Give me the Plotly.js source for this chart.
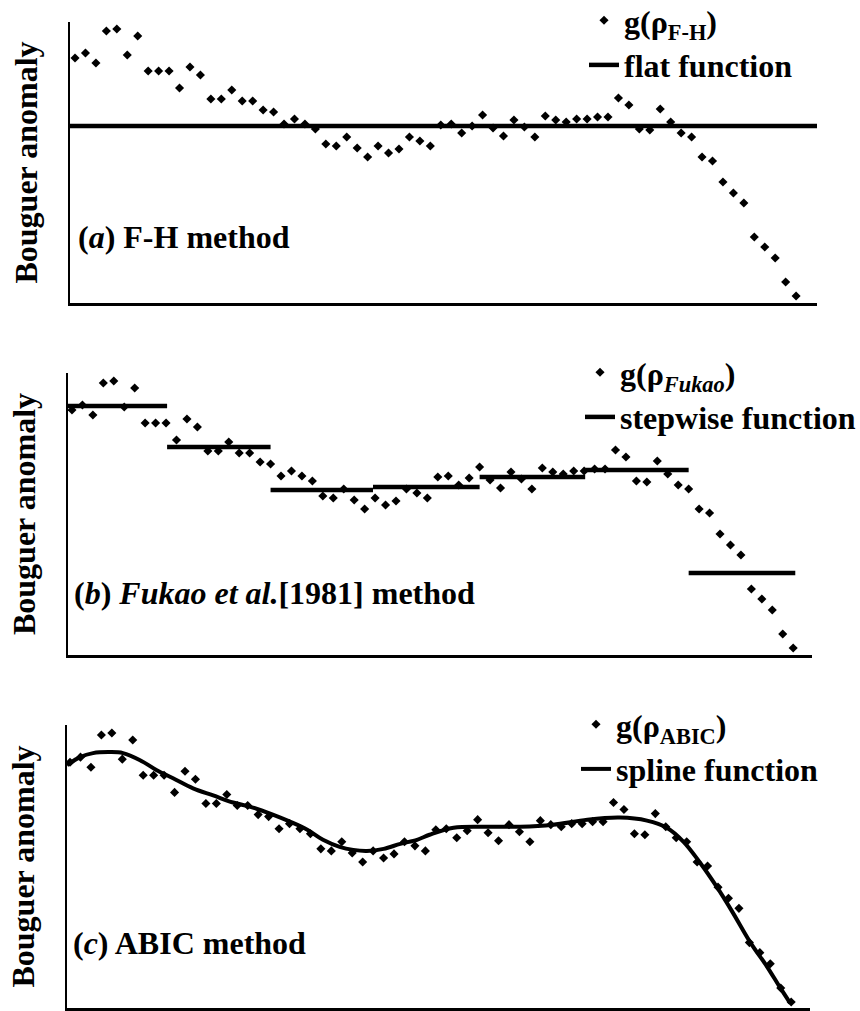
<!DOCTYPE html>
<html>
<head>
<meta charset="utf-8">
<script src="https://cdn.plot.ly/plotly-3.0.1.min.js"></script>
<style>
html, body { margin: 0; padding: 0; background: #fff; }
#chart { width: 860px; height: 1011px; }
</style>
</head>
<body>
<div id="chart"></div>
<script>
// ---- data (arbitrary anomaly units) ----
const station = [1,2,3,4,5,6,7,8,9,10,11,12,13,14,15,16,17,18,19,20,
  21,22,23,24,25,26,27,28,29,30,31,32,33,34,35,36,37,38,39,40,
  41,42,43,44,45,46,47,48,49,50,51,52,53,54,55,56,57,58,59,60,
  61,62,63,64,65,66,67,68,69,70];

const gFH = [6.8,7.3,6.3,9.5,9.7,7.1,9.0,5.5,5.5,5.5,
  3.8,5.9,5.1,2.7,2.7,3.6,2.5,2.5,1.6,1.4,
  0.2,0.7,0.2,-0.3,-1.8,-2.0,-1.1,-2.2,-3.1,-2.0,
  -2.7,-2.3,-1.1,-1.5,-2.0,0.1,0.2,-0.7,0.0,1.1,
  -0.2,-1.0,0.6,-0.1,-1.1,1.0,0.6,0.4,0.7,0.7,
  0.9,0.9,2.8,2.1,-0.3,-0.4,1.7,0.4,-0.7,-1.1,
  -3.1,-3.5,-5.6,-6.7,-7.7,-11.1,-12.1,-13.2,-15.6,-17.0];
const gFukao = gFH.slice();   // the dots read identically in panel (b)
const gABIC = gFH.slice();    // and in panel (c)

// (a) flat function
const flatLevel = 0.0;

// (b) stepwise function: block edges (station units) and block levels
const stepEdges = [0.62, 10.1, 20.0, 29.8, 40.0, 50.1, 60.0, 70.2];
const stepLevels = [7.2, 3.1, -1.2, -0.9, 0.1, 0.8, -9.5];

// (c) spline function knots
const splineX = [0.71,1.96,3.2,4.83,6.07,7.7,9.3,10.86,12.77,14.7,16.6,18.5,20.4,22.05,
  23.7,25.2,26.8,28.1,29.4,31.0,32.6,34.2,35.4,37.7,40.9,44.1,47.2,50.5,53.6,56.2,
  58.1,59.7,61.3,62.9,64.4,66.1,67.7,68.9,69.9];
const splineY = [6.5,7.3,7.7,7.8,7.7,7.0,6.0,5.2,4.2,3.5,2.8,2.3,1.6,0.9,
  0.1,-0.9,-1.6,-1.9,-2.0,-1.8,-1.3,-0.9,-0.4,0.3,0.4,0.4,0.6,1.1,1.3,1.0,
  0.3,-1.1,-3.2,-5.6,-8.1,-11.1,-13.5,-15.5,-17.1];

// axis ranges
const xRangeA = [0.52, 72.0], yRangeA = [-17.7, 10.4];
const xRangeB = [0.62, 71.8], yRangeB = [-17.7, 10.5];
const xRangeC = [0.71, 71.8], yRangeC = [-17.59, 10.49];

// ---- build ----
const FONT = 'Liberation Serif';
const W = 860, H = 1011;
const px = v => v / W;
const py = v => 1 - v / H;

const stepX = [], stepY = [];
stepLevels.forEach((lv, k) => {
  stepX.push(stepEdges[k], stepEdges[k + 1], null);
  stepY.push(lv, lv, null);
});

const dotMarker = { symbol: 'diamond', size: 7, color: '#000' };
const lineStyle = { color: '#000', width: 4.5 };

const traces = [
  { x: station, y: gFH, mode: 'markers', marker: dotMarker, xaxis: 'x', yaxis: 'y',
    name: 'g(ρ<sub>F-H</sub>)', legend: 'legend' },
  { x: xRangeA, y: [flatLevel, flatLevel], mode: 'lines', line: lineStyle, xaxis: 'x', yaxis: 'y',
    name: 'flat function', legend: 'legend' },
  { x: station, y: gFukao, mode: 'markers', marker: dotMarker, xaxis: 'x2', yaxis: 'y2',
    name: 'g(ρ<sub><i>Fukao</i></sub>)', legend: 'legend2' },
  { x: stepX, y: stepY, mode: 'lines', line: lineStyle, connectgaps: false, xaxis: 'x2', yaxis: 'y2',
    name: 'stepwise function', legend: 'legend2' },
  { x: station, y: gABIC, mode: 'markers', marker: dotMarker, xaxis: 'x3', yaxis: 'y3',
    name: 'g(ρ<sub>ABIC</sub>)', legend: 'legend3' },
  { x: splineX, y: splineY, mode: 'lines', line: Object.assign({}, lineStyle, { width: 4, shape: 'spline', smoothing: 1 }),
    xaxis: 'x3', yaxis: 'y3', name: 'spline function', legend: 'legend3' }
];

const baseFont = { family: FONT, size: 32, color: '#000', weight: 'bold' };
const axisCommon = {
  showline: true, linecolor: '#000', linewidth: 2.5, showgrid: false, zeroline: false,
  showticklabels: false, ticks: '', fixedrange: true
};
const yTitle = { text: 'Bouguer anomaly', font: baseFont, standoff: 21 };

const legendCommon = {
  xanchor: 'left', yanchor: 'top', bgcolor: 'rgba(0,0,0,0)', borderwidth: 0,
  font: baseFont, traceorder: 'normal', itemclick: false, itemdoubleclick: false
};

const layout = {
  width: W, height: H,
  margin: { l: 0, r: 0, t: 0, b: 0, autoexpand: false },
  paper_bgcolor: '#fff', plot_bgcolor: '#fff',
  font: baseFont,
  showlegend: true,
  xaxis:  Object.assign({}, axisCommon, { domain: [px(70), px(817)], range: xRangeA, anchor: 'y' }),
  yaxis:  Object.assign({}, axisCommon, { domain: [py(303), py(22)], range: yRangeA, anchor: 'x', title: yTitle }),
  xaxis2: Object.assign({}, axisCommon, { domain: [px(68), px(812)], range: xRangeB, anchor: 'y2' }),
  yaxis2: Object.assign({}, axisCommon, { domain: [py(655), py(373)], range: yRangeB, anchor: 'x2', title: yTitle }),
  xaxis3: Object.assign({}, axisCommon, { domain: [px(67), px(810)], range: xRangeC, anchor: 'y3' }),
  yaxis3: Object.assign({}, axisCommon, { domain: [py(1008), py(725)], range: yRangeC, anchor: 'x3', title: yTitle }),
  legend:  Object.assign({}, legendCommon, { x: px(584), y: py(-7) }),
  legend2: Object.assign({}, legendCommon, { x: px(580), y: py(345) }),
  legend3: Object.assign({}, legendCommon, { x: px(576), y: py(697) }),
  annotations: [
    { text: '(<i>a</i>) F-H method', xref: 'paper', yref: 'paper', x: px(76), y: py(237),
      xanchor: 'left', yanchor: 'middle', showarrow: false, font: baseFont },
    { text: '(<i>b</i>) <i>Fukao et al.</i>[1981] method', xref: 'paper', yref: 'paper', x: px(72), y: py(593),
      xanchor: 'left', yanchor: 'middle', showarrow: false, font: baseFont },
    { text: '(<i>c</i>) ABIC method', xref: 'paper', yref: 'paper', x: px(71), y: py(943),
      xanchor: 'left', yanchor: 'middle', showarrow: false, font: baseFont }
  ]
};

Plotly.newPlot('chart', traces, layout, { staticPlot: true, displayModeBar: false });
</script>
</body>
</html>
